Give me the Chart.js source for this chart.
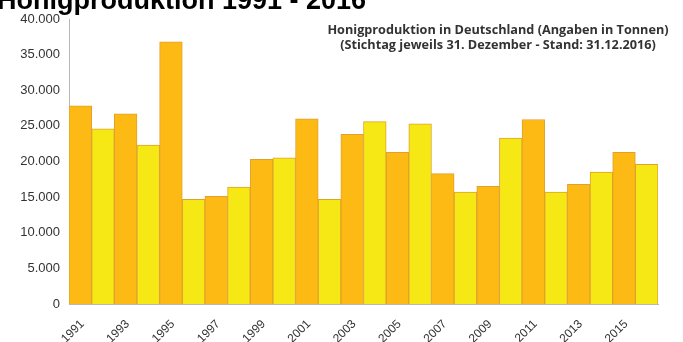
<!DOCTYPE html>
<html lang="de">
<head>
<meta charset="utf-8">
<title>Honigproduktion 1991 - 2016</title>
<script src="https://cdn.jsdelivr.net/npm/chart.js@4/dist/chart.umd.min.js"></script>
<style>
  html, body { margin: 0; padding: 0; background: #fff; overflow: hidden; }
  #wrap { position: relative; width: 683px; height: 342px; }
  #headline {
    position: absolute; left: -3px; top: -15px;
    font: bold 27px "Liberation Sans", Arial, sans-serif; color: #000;
    white-space: nowrap; z-index: 2;
  }
  #note {
    position: absolute; left: 316px; top: 22px; width: 364px;
    font: bold 12.7px "Open Sans", "Liberation Sans", sans-serif; color: #333;
    text-align: center; line-height: 15px; z-index: 2;
  }
</style>
</head>
<body>
<div id="wrap">
  <div id="headline">Honigproduktion 1991 - 2016</div>
  <div id="note">Honigproduktion in Deutschland (Angaben in Tonnen)<br>(Stichtag jeweils 31. Dezember - Stand: 31.12.2016)</div>
  <canvas id="myChart" width="683" height="342"></canvas>
</div>
<script>
const years = ["1991","1992","1993","1994","1995","1996","1997","1998","1999","2000",
  "2001","2002","2003","2004","2005","2006","2007","2008","2009","2010",
  "2011","2012","2013","2014","2015","2016"];
// Tonnen pro Jahr
const tonnen = [27800, 24600, 26700, 22300, 36800, 14700, 15100, 16400, 20300, 20500,
  26000, 14700, 23800, 25600, 21300, 25300, 18300, 15700, 16500, 23300,
  25900, 15700, 16800, 18500, 21300, 19600];
const yTicks = [0, 5000, 10000, 15000, 20000, 25000, 30000, 35000, 40000];

const orange = "#fdb914";
const yellow = "#f6e815";

const ctx = document.getElementById('myChart');

new Chart(ctx, {
  type: 'bar',
  data: {
    labels: years,
    datasets: [{
      data: tonnen,
      backgroundColor: tonnen.map((v, i) => i % 2 === 0 ? orange : yellow),
      borderColor: "#e0a22c",
      borderWidth: 1,
      categoryPercentage: 1,
      barPercentage: 1
    }]
  },
  options: {
    responsive: false,
    animation: false,
    layout: { padding: { top: 19, right: 25, left: 0, bottom: 0 } },
    plugins: { legend: { display: false }, tooltip: { enabled: false } },
    scales: {
      x: {
        grid: { display: false, drawTicks: false },
        border: { display: true, color: "#b8b8b8" },
        ticks: {
          autoSkip: false,
          maxRotation: 45,
          minRotation: 45,
          padding: 13,
          labelOffset: 2,
          color: "#333",
          font: { family: "Liberation Sans", size: 12 },
          callback: (v, i) => i % 2 === 0 ? years[i] : ""
        },
        afterFit: (s) => { s.height = 38; }
      },
      y: {
        min: 0,
        max: 40000,
        afterBuildTicks: (s) => { s.ticks = yTicks.map(v => ({ value: v })); },
        grid: { display: false, drawTicks: true, tickLength: 4, color: "#b8b8b8", drawOnChartArea: false },
        border: { display: true, color: "#b8b8b8" },
        ticks: {
          color: "#333",
          padding: 5,
          font: { family: "Liberation Sans", size: 13 },
          callback: (v) => v.toLocaleString("de-DE")
        },
        afterFit: (s) => { s.width = 69; }
      }
    }
  }
});
</script>
</body>
</html>
